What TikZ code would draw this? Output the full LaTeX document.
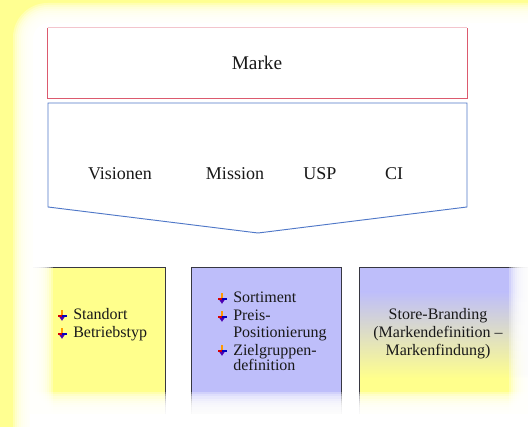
\documentclass[tikz,border=0pt]{standalone}
\usepackage{fontspec}
\setmainfont{Liberation Serif}
\newfontfamily\tnr{Liberation Serif}
\definecolor{bgyel}{RGB}{255,255,145}
\definecolor{boxyel}{RGB}{255,255,140}
\definecolor{lav}{RGB}{190,190,250}
\definecolor{brd}{RGB}{55,55,65}
\definecolor{redb}{RGB}{220,90,110}
\definecolor{blueb}{RGB}{80,120,200}
\definecolor{txt}{RGB}{25,25,25}
\tikzset{
  toptxt/.style={font=\tnr\fontsize{13.5}{16}\selectfont, text=txt, inner sep=0pt, anchor=base},
  btxt/.style={font=\tnr\fontsize{12}{12.75}\selectfont, text=txt, inner sep=0pt, anchor=base west},
  ctxt/.style={font=\tnr\fontsize{12}{12.75}\selectfont, text=txt, inner sep=0pt, anchor=base},
  boxline/.style={draw=brd, line width=0.7pt},
  bul/.pic={
    \draw[line width=1.5pt, orange!80!yellow] (0,-5.5) -- (0,0.5);
    \fill[red!85!black] (-4.5,-0.9) rectangle (0,0.9);
    \fill[blue!75!black] (0,-0.9) rectangle (4.5,0.9);
    \fill[violet!60!blue] (-2.7,0.9) -- (2.7,0.9) -- (0,4.8) -- cycle;
  }
}
\begin{document}
\begin{tikzpicture}[x=0.75pt,y=-0.75pt]
\useasboundingbox (0,0) rectangle (528,427);
\begin{scope}
\clip (0,0) rectangle (528,427);
% background
\fill[bgyel] (0,0) rectangle (528,427);
\foreach \i in {0,...,9}{
  \pgfmathsetmacro\rr{26-1.4*\i}
  \fill[white,opacity=0.3,rounded corners=\rr pt] (13+2*\i,3+2*\i) rectangle (600,480);
}
\fill[white,rounded corners=12pt] (33,23) rectangle (600,480);
% Marke box
\node[minimum width=314.25pt, minimum height=52.5pt, inner sep=0pt] (markebox) at (257.5,63) {};
\draw[redb!35, line width=0.6pt] (markebox.north west) -- (markebox.north east);
\draw[redb, line width=0.7pt] (markebox.north west) -- (markebox.south west) -- (markebox.south east) -- (markebox.north east);
\node[toptxt, font=\tnr\fontsize{14.5}{16}\selectfont] (marke) at (257,70) {Marke};
% chevron
\coordinate (cA) at (48,103);
\coordinate (cB) at (467,103);
\coordinate (cC) at (467,207);
\coordinate (cD) at (258,233);
\coordinate (cE) at (48,207);
\draw[blueb, line width=0.7pt] (cA) -- (cB) -- (cC) -- (cD) -- (cE) -- cycle;
\node[toptxt] (vis) at (120,180) {Visionen};
\node[toptxt] (mis) at (235,180) {Mission};
\node[toptxt] (usp) at (320,180) {USP};
\node[toptxt] (ci) at (394,180) {CI};
% box 1
\fill[boxyel] (33,267) rectangle (165,430);
\draw[boxline] (33,267) -- (165,267) -- (165,430);
% box 2
\fill[lav] (191,267) rectangle (341,430);
\draw[boxline] (191,430) -- (191,267) -- (341,267) -- (341,430);
% box 3
\fill[lav] (359,267) rectangle (530,292);
\shade[top color=lav, bottom color=boxyel] (359,292) rectangle (530,378);
\fill[boxyel] (359,378) rectangle (530,430);
\draw[boxline] (359,430) -- (359,267) -- (530,267);
% fades
\foreach \i in {0,...,9}{
  \fill[white,opacity=0.3] (30,262) rectangle (35+2*\i,430);
  \fill[white,opacity=0.3] (527-2*\i,262) rectangle (530,430);
  \fill[white,opacity=0.3] (30,392+2.2*\i) rectangle (530,430);
}
\fill[white] (30,414) rectangle (530,430);
\end{scope}
% box texts
\pic at (62,316) {bul};
\node[btxt] (stand) at (73,320) {Standort};
\pic at (62,334) {bul};
\node[btxt] (betr) at (73,338) {Betriebstyp};
\pic at (222,299) {bul};
\node[btxt] (sort) at (233,303) {Sortiment};
\pic at (222,317) {bul};
\node[btxt] (preis) at (233,321) {Preis-};
\node[btxt] (posi) at (233,338) {Positionierung};
\pic at (222,351) {bul};
\node[btxt] (ziel) at (233,355) {Zielgruppen-};
\node[btxt] (defi) at (233,371) {definition};
\node[ctxt] (store) at (438,320) {Store-Branding};
\node[ctxt] (mdef) at (438,338) {(Markendefinition –};
\node[ctxt] (mfind) at (438,355) {Markenfindung)};
\end{tikzpicture}
\end{document}
